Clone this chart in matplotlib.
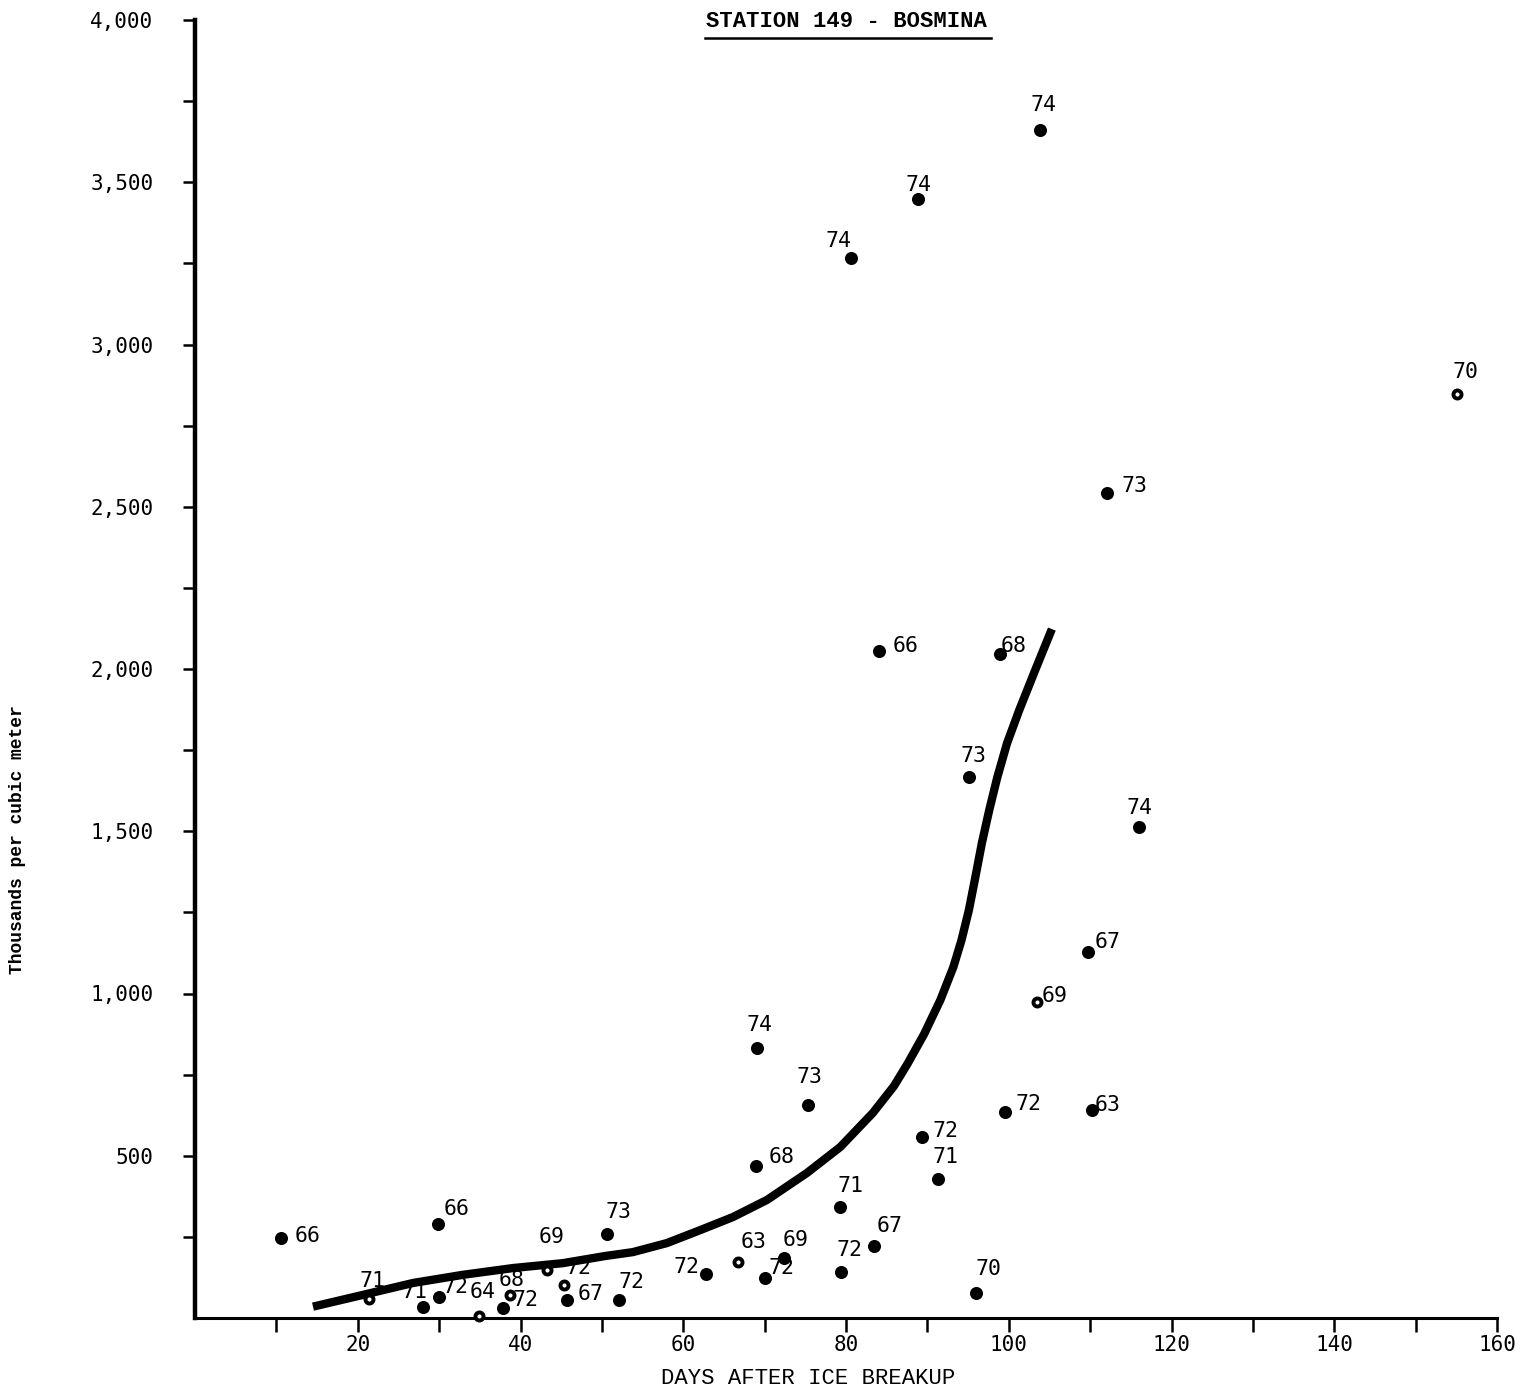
import matplotlib
matplotlib.use("Agg")
import matplotlib.pyplot as plt

# sample points: days after ice breakup, thousands per cubic meter, year label
days = [10.6, 29.9, 21.4, 28.0, 30.0, 34.9, 38.7, 37.9, 43.3, 45.4,
        45.7, 52.1, 50.6, 62.8, 66.7, 72.4, 70.1, 79.4, 83.4, 79.3,
        68.9, 69.1, 75.3, 89.3, 91.3, 96.0, 99.5, 110.2, 103.5, 109.7,
        116.0, 95.1, 84.1, 98.9, 112.1, 155.1, 80.6, 88.9, 103.8]
density = [247, 290, 59, 34, 65, 5, 71, 31, 148, 102,
           56, 56, 259, 136, 173, 185, 123, 142, 222, 342,
           468, 832, 656, 558, 428, 77, 635, 641, 974, 1128,
           1513, 1667, 2056, 2046, 2542, 2848, 3267, 3448, 3661]
years = ["66", "66", "71", "71", "72", "64", "68", "72", "69", "72",
         "67", "72", "73", "72", "63", "69", "72", "72", "67", "71",
         "68", "74", "73", "72", "71", "70", "72", "63", "69", "67",
         "74", "73", "66", "68", "73", "70", "74", "74", "74"]
hollow = [False, False, True, False, False, True, True, False, True, True,
          False, False, False, False, True, False, False, False, False, False,
          False, False, False, False, False, False, False, False, True, False,
          False, False, False, False, False, True, False, False, False]

# hand drawn trend curve
curve_days = [14.5, 20.6, 26.8, 32.9, 39.1, 45.2, 50.4, 53.8, 58.0, 62.1,
              66.1, 70.3, 75.2, 79.3, 83.3, 85.9, 87.6, 89.6, 91.6, 93.2,
              94.2, 95.1, 95.9, 96.7, 97.6, 98.6, 99.8, 101.3, 103.4, 105.3]
curve_density = [35, 71, 108, 133, 154, 169, 191, 203, 231, 271,
                 311, 364, 447, 527, 632, 715, 785, 875, 980, 1082,
                 1165, 1257, 1359, 1464, 1565, 1667, 1772, 1874, 2006, 2123]

x_ticks = list(range(10, 161, 10))
x_labels = ["" if t % 20 else str(t) for t in x_ticks]
y_ticks = list(range(250, 4001, 250))
y_labels = ["{:,}".format(t) if t % 500 == 0 else "" for t in y_ticks]

# label offsets in pixels (dx, dy) from each point
label_offsets = [(26, 2), (18, 15), (3, 18), (-8, 15), (16, 10), (4, 24), (2, 15),
                 (22, 8), (4, 33), (14, 17), (24, 6), (13, 18), (12, 22), (-20, 7),
                 (16, 20), (11, 18), (16, 10), (8, 22), (16, 20), (10, 21), (26, 9),
                 (2, 23), (2, 28), (24, 6), (8, 22), (12, 24), (24, 8), (16, 5),
                 (17, 6), (20, 10), (1, 19), (5, 21), (26, 5), (14, 8), (27, 7),
                 (8, 22), (-12, 17), (0, 14), (4, 25)]

W, H = 1534, 1393
fig = plt.figure(figsize=(W / 100, H / 100), dpi=100)
ax = fig.add_axes([195 / W, 75 / H, 1302 / W, 1298 / H])

mono = "DejaVu Sans Mono"
typewriter = "Liberation Mono"

ax.plot(curve_days, curve_density, color="black", lw=6, solid_capstyle="butt",
        solid_joinstyle="round", zorder=2)

for x, y, h in zip(days, density, hollow):
    if h:
        ax.plot(x, y, "o", ms=5.8, mfc="white", mec="black", mew=2.8,
                clip_on=False, zorder=3)
    else:
        ax.plot(x, y, "o", ms=9.4, mfc="black", mec="black", mew=0,
                clip_on=False, zorder=3)

for x, y, lab, (dx, dy) in zip(days, density, years, label_offsets):
    ax.annotate(lab, (x, y), xytext=(dx * 0.72, dy * 0.72), textcoords="offset points",
                ha="center", va="center", fontsize=15.5, family=mono, color="black",
                zorder=4)

ax.set_xlim(0, 160)
ax.set_ylim(0, 4000)
ax.spines["top"].set_visible(False)
ax.spines["right"].set_visible(False)
ax.spines["left"].set_linewidth(3.2)
ax.spines["bottom"].set_linewidth(2.2)

ax.set_xticks(x_ticks)
ax.set_xticklabels(x_labels, family=mono, fontsize=15)
ax.set_yticks(y_ticks)
ax.set_yticklabels(y_labels, family=mono, fontsize=15)
ax.tick_params(axis="x", direction="out", length=10, width=1.8, pad=2)
ax.tick_params(axis="y", direction="out", length=9, width=1.8, pad=21)

# underlined title
ax.text(0.5, 0.9985, "STATION 149 - BOSMINA", transform=ax.transAxes, ha="center",
        va="center", fontsize=16, family=typewriter, weight="bold")
ax.plot([0.392, 0.611], [0.986, 0.986], transform=ax.transAxes, color="black",
        lw=1.8, clip_on=False)

fig.text(808 / W, 1 - 1378 / H, "DAYS AFTER ICE BREAKUP", ha="center", va="center",
         fontsize=16, family=typewriter)
fig.text(18 / W, 1 - 840 / H, "Thousands per cubic meter", ha="center", va="center",
         rotation=90, fontsize=13, family=typewriter, weight="bold")

fig.savefig("out.png", dpi=100, facecolor="white")
